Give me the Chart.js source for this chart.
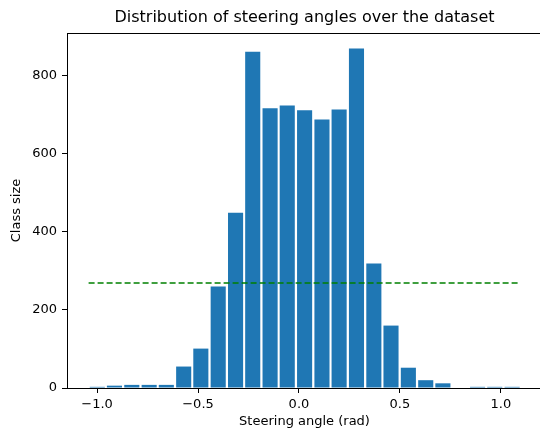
<!DOCTYPE html>
<html>
<head>
<meta charset="utf-8">
<script src="https://cdn.jsdelivr.net/npm/chart.js@4"></script>
<style>
  html, body { margin: 0; padding: 0; background: #fff; overflow: hidden; }
  #wrap { position: relative; width: 540px; height: 429px; overflow: hidden; }
  #myChart { position: absolute; left: 0; top: 0; }
</style>
</head>
<body>
<div id="wrap"><canvas id="myChart" width="560" height="429"></canvas></div>
<script>
// bin centers of the steering angle histogram (rad)
const binCenters = [-0.999, -0.914, -0.828, -0.742, -0.657, -0.571, -0.486, -0.400, -0.314,
  -0.229, -0.143, -0.058, 0.028, 0.114, 0.199, 0.285, 0.371, 0.456, 0.542, 0.628,
  0.713, 0.799, 0.885, 0.970, 1.056];
// samples in each bin
const classSizes = [3, 6, 8, 8, 8, 55, 101, 260, 449, 862, 717, 724, 712, 688, 714, 870,
  319, 160, 52, 20, 12, 0, 3, 3, 3];
// mean class size line, from first to last bin edge
const meanRange = [-1.042, 1.097];
const meanSize = 269;
const xTicks = [-1.0, -0.5, 0.0, 0.5, 1.0];
const yTicks = [0, 200, 400, 600, 800];
const chartTitle = "Distribution of steering angles over the dataset";

const ctx = document.getElementById("myChart");
const FONT = "'DejaVu Sans', sans-serif";

//------------------------------------------
// full axes box + title centred over it (right spine sits past the 540px window)
const framePlugin = {
  id: "frame",
  afterDraw(chart) {
    const { ctx, chartArea: a } = chart;
    ctx.save();
    ctx.strokeStyle = "#000";
    ctx.lineWidth = 1;
    ctx.strokeRect(Math.round(a.left) + 0.5, Math.round(a.top) + 0.5,
      Math.round(a.right - a.left), Math.round(a.bottom - a.top));
    ctx.fillStyle = "#000";
    ctx.font = "16px " + FONT;
    ctx.textAlign = "center";
    ctx.textBaseline = "middle";
    ctx.fillText(chartTitle, (a.left + a.right) / 2, 18);
    ctx.restore();
  },
};

//------------------------------------------
new Chart(ctx, {
  type: "bar",
  data: {
    datasets: [
      {
        type: "bar",
        data: binCenters.map((x, i) => ({ x: x, y: classSizes[i] })),
        backgroundColor: "#1f77b4",
        borderWidth: 0,
        barPercentage: 0.88,
        categoryPercentage: 1.0,
        order: 2,
      },
      {
        type: "line",
        data: meanRange.map((x) => ({ x: x, y: meanSize })),
        borderColor: "#008000",
        borderWidth: 1.6,
        borderDash: [6, 3],
        pointRadius: 0,
        fill: false,
        order: 1,
      },
    ],
  },
  options: {
    responsive: false,
    animation: false,
    devicePixelRatio: 1,
    layout: { padding: { left: 0, right: 18, top: 33, bottom: 0 } },
    plugins: { legend: { display: false }, tooltip: { enabled: false } },
    scales: {
      x: {
        type: "linear",
        offset: false,
        min: -1.149,
        max: 1.204,
        afterFit: (s) => { s.height = 41; },
        afterBuildTicks: (s) => { s.ticks = xTicks.map((v) => ({ value: v })); },
        grid: { offset: false, drawOnChartArea: false, drawTicks: true, tickLength: 5, color: "#000" },
        border: { display: true, color: "#000", width: 1 },
        ticks: {
          padding: 4,
          color: "#000",
          font: { family: FONT, size: 13 },
          maxRotation: 0,
          callback: (v) => v.toFixed(1).replace("-", "\u2212"),
        },
        title: {
          display: true,
          text: "Steering angle (rad)",
          color: "#000",
          font: { family: FONT, size: 13 },
          padding: { top: 0, bottom: 0 },
        },
      },
      y: {
        min: 0,
        max: 910,
        afterFit: (s) => { s.width = 67; },
        afterBuildTicks: (s) => { s.ticks = yTicks.map((v) => ({ value: v })); },
        grid: { drawOnChartArea: false, drawTicks: true, tickLength: 5, color: "#000" },
        border: { display: true, color: "#000", width: 1 },
        ticks: {
          padding: 5,
          color: "#000",
          font: { family: FONT, size: 13 },
        },
        title: {
          display: true,
          text: "Class size",
          color: "#000",
          font: { family: FONT, size: 13 },
          padding: { top: 9, bottom: 0 },
        },
      },
    },
  },
  plugins: [framePlugin],
});
</script>
</body>
</html>
